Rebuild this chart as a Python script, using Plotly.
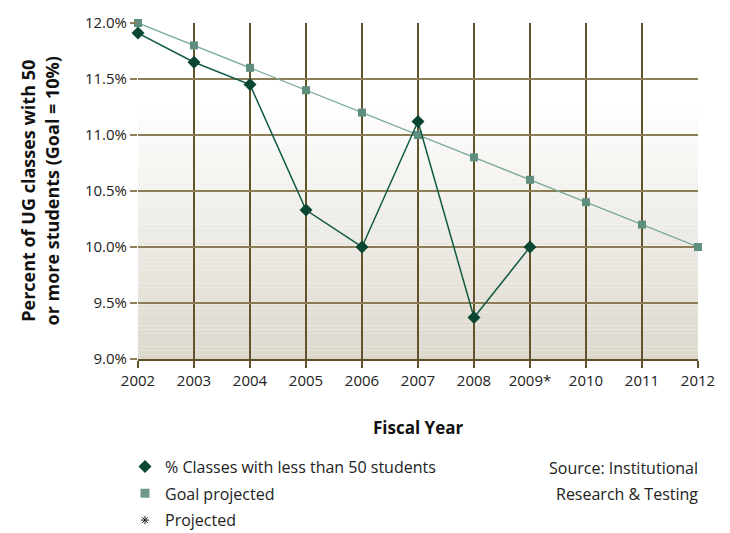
import plotly.graph_objects as go

years = ["2002", "2003", "2004", "2005", "2006", "2007", "2008", "2009*", "2010", "2011", "2012"]
actual_years = ["2002", "2003", "2004", "2005", "2006", "2007", "2008", "2009*"]
actual_pct = [11.91, 11.65, 11.45, 10.33, 10.0, 11.12, 9.37, 10.0]
goal_pct = [12.0, 11.8, 11.6, 11.4, 11.2, 11.0, 10.8, 10.6, 10.4, 10.2, 10.0]
y_ticks = [9.0, 9.5, 10.0, 10.5, 11.0, 11.5, 12.0]
y_tick_text = ["9.0%", "9.5%", "10.0%", "10.5%", "11.0%", "11.5%", "12.0%"]

FONT = "Open Sans"
VGRID = "#63532b"
HGRID = "#8d7d57"
DARK = "#0b4632"

fig = go.Figure()

fig.add_trace(go.Scatter(
    x=years, y=goal_pct, mode="lines+markers", showlegend=False, cliponaxis=False,
    line=dict(color="#7aa898", width=1.3),
    marker=dict(symbol="square", size=8, color="#5f8f7e"),
))
fig.add_trace(go.Scatter(
    x=actual_years, y=actual_pct, mode="lines+markers", showlegend=False, cliponaxis=False,
    line=dict(color="#115a43", width=1.5),
    marker=dict(symbol="diamond", size=10, color=DARK),
))

# legend entries
fig.add_trace(go.Scatter(x=[None], y=[None], mode="markers", name="% Classes with less than 50 students",
                         legendgroup="a", marker=dict(symbol="diamond", size=10, color=DARK)))
fig.add_trace(go.Scatter(x=[None], y=[None], mode="markers", name="Goal projected",
                         legendgroup="b", marker=dict(symbol="square", size=9, color="#6f9a8a")))
fig.add_trace(go.Scatter(x=[None], y=[None], mode="markers", name="Projected",
                         legendgroup="c", marker=dict(symbol="asterisk-open", size=7, color="#222",
                                                      line=dict(color="#222", width=1))))

# background gradient strips (below grid)
shapes = []
n = 80
y_lo, y_hi = 9.0, 12.0
top_c = (255, 255, 255)
bot_c = (220, 216, 204)
for i in range(n):
    y0 = y_lo + (y_hi - y_lo) * i / n
    y1 = y_lo + (y_hi - y_lo) * (i + 1) / n
    ym = (y0 + y1) / 2
    t = max(0.0, min(1.0, (11.3 - ym) / (11.3 - 9.0)))
    c = tuple(round(top_c[k] + (bot_c[k] - top_c[k]) * t) for k in range(3))
    shapes.append(dict(type="rect", xref="x domain", yref="y", x0=0, x1=1, y0=y0, y1=y1,
                       layer="below", line=dict(width=0),
                       fillcolor="rgb(%d,%d,%d)" % c))

fig.update_layout(
    width=730, height=533,
    margin=dict(l=130, r=40, t=15, b=182, autoexpand=False),
    paper_bgcolor="white", plot_bgcolor="white",
    font=dict(family=FONT, size=15, color="#222"),
    shapes=shapes,
    showlegend=True,
    legend=dict(x=-0.0232, y=-0.2696,
                xanchor="left", yanchor="top",
                traceorder="grouped", tracegroupgap=3,
                font=dict(family=FONT, size=16, color="#222"),
                bgcolor="rgba(0,0,0,0)"),
    xaxis=dict(type="category", categoryorder="array", categoryarray=years,
               range=[0, len(years) - 1],
               showgrid=True, gridcolor=VGRID, gridwidth=1.6,
               showline=True, linecolor="#5e4f26", linewidth=2,
               ticks="outside", ticklen=7, tickwidth=1.6, tickcolor=VGRID,
               tickfont=dict(family=FONT, size=15, color="#222"),
               zeroline=False),
    yaxis=dict(range=[9.0, 12.0], tickvals=y_ticks, ticktext=y_tick_text,
               showgrid=True, gridcolor=HGRID, gridwidth=2,
               ticks="outside", ticklen=7, tickwidth=2, tickcolor=HGRID,
               tickfont=dict(family=FONT, size=15, color="#222"),
               zeroline=False),
    annotations=[
        dict(text="<b>Percent of UG classes with 50<br>or more students (Goal = 10%)</b>",
             xref="paper", yref="paper", x=-0.176, y=0.5, textangle=-90,
             showarrow=False, xanchor="center", yanchor="middle",
             font=dict(family=FONT, size=18, color="#111")),
        dict(text="<b>Fiscal Year</b>", xref="paper", yref="paper", x=0.5, y=-0.205,
             xanchor="center", yanchor="middle", showarrow=False,
             font=dict(family=FONT, size=17, color="#111")),
        dict(text="Source: Institutional", xref="paper", yref="paper", x=1.004, y=-0.3244,
             xanchor="right", yanchor="middle", showarrow=False,
             font=dict(family=FONT, size=16, color="#222")),
        dict(text="Research & Testing", xref="paper", yref="paper", x=1.004, y=-0.4018,
             xanchor="right", yanchor="middle", showarrow=False,
             font=dict(family=FONT, size=16, color="#222")),
    ],
)

fig.write_html("out.html")
